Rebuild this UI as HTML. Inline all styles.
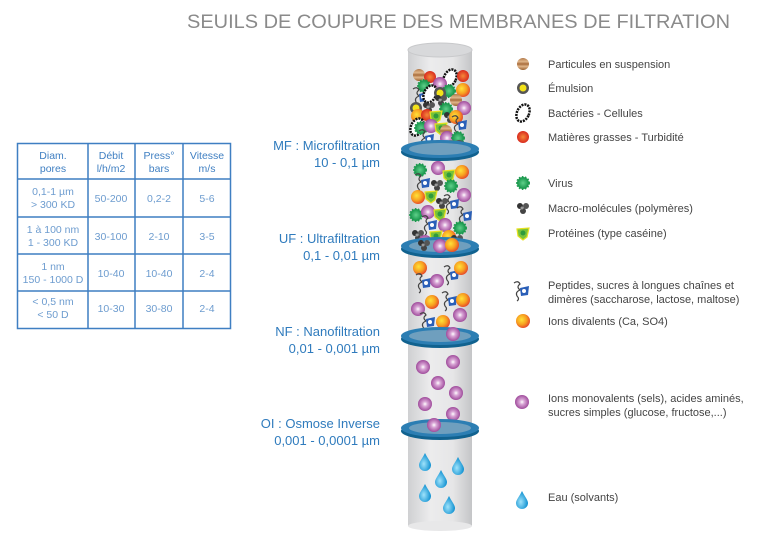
<!DOCTYPE html>
<html><head><meta charset="utf-8"><style>
html,body{margin:0;padding:0;background:#fff;}
svg{display:block;font-family:"Liberation Sans",sans-serif;}
</style></head><body>
<svg width="768" height="544" viewBox="0 0 768 544" xmlns="http://www.w3.org/2000/svg">
<defs>
<linearGradient id="cyl" x1="0" x2="1" y1="0" y2="0">
<stop offset="0" stop-color="#cfd0d2"/><stop offset="0.35" stop-color="#ececed"/><stop offset="0.7" stop-color="#e6e6e7"/><stop offset="1" stop-color="#c4c5c7"/></linearGradient>
<radialGradient id="pur" cx="0.5" cy="0.5" r="0.5"><stop offset="0" stop-color="#fff"/><stop offset="0.35" stop-color="#d9a6d6"/><stop offset="1" stop-color="#a04c9c"/></radialGradient>
<radialGradient id="org" cx="0.4" cy="0.4" r="0.6"><stop offset="0" stop-color="#ffe23a"/><stop offset="0.6" stop-color="#f7a020"/><stop offset="1" stop-color="#e8502a"/></radialGradient>
<radialGradient id="grn" cx="0.5" cy="0.5" r="0.5"><stop offset="0" stop-color="#5fd08a"/><stop offset="1" stop-color="#149348"/></radialGradient>
<radialGradient id="red" cx="0.5" cy="0.5" r="0.5"><stop offset="0" stop-color="#f5893a"/><stop offset="1" stop-color="#d92a1e"/></radialGradient>
<linearGradient id="brn" x1="0" x2="0" y1="0" y2="1"><stop offset="0" stop-color="#b27a4a"/><stop offset="0.3" stop-color="#e0b58a"/><stop offset="0.5" stop-color="#a86c3c"/><stop offset="0.7" stop-color="#e0b58a"/><stop offset="1" stop-color="#9a6030"/></linearGradient>
<radialGradient id="drop" cx="0.4" cy="0.6" r="0.6"><stop offset="0" stop-color="#9fe3fb"/><stop offset="1" stop-color="#0d8fd0"/></radialGradient>
<g id="p"><circle r="7" fill="url(#pur)"/></g>
<g id="o"><circle r="7" fill="url(#org)"/></g>
<g id="g"><circle r="6" fill="url(#grn)" stroke="#1c9a4e" stroke-width="2" stroke-dasharray="1.5 1.5"/></g>
<g id="r"><circle r="6" fill="url(#red)"/></g>
<g id="b"><circle r="6" fill="url(#brn)"/></g>
<g id="m"><circle cx="-3" cy="-2" r="3" fill="#333"/><circle cx="3" cy="-2" r="3" fill="#555"/><circle cx="0" cy="3" r="3" fill="#444"/><circle cx="-1" cy="0" r="1.5" fill="#999"/></g>
<g id="pr"><path d="M-6,-4 L6,-5 L4,4 L0,7 L-5,3 Z" fill="#78c23a" stroke="#e6e020" stroke-width="1.2"/><circle r="2.5" fill="#2e9a3c"/></g>
<g id="pep"><path d="M-8,-8 q4,-3 6,1 q-4,3 0,6 q-5,2 -3,6 q3,3 0,5" fill="none" stroke="#444" stroke-width="1.2"/><path d="M-2,-3 L7,-5 L6,4 L-1,5 Z" fill="#2a5fb8"/><circle cx="2" cy="0" r="2" fill="#fff"/></g>
<g id="bac"><ellipse rx="6" ry="9" fill="#fff" stroke="#111" stroke-width="2.5" stroke-dasharray="2 1" transform="rotate(25)"/></g>
<g id="em"><circle r="6" fill="#555"/><circle r="3.5" fill="#f2e21a"/></g>
<g id="d"><path d="M0,-9 C3,-3 6,0 6,3 A6,6 0 0 1 -6,3 C-6,0 -3,-3 0,-9 Z" fill="url(#drop)"/></g>
</defs>

<text x="187" y="28" font-size="19" fill="#8a8a8a" textLength="543" lengthAdjust="spacingAndGlyphs">SEUILS DE COUPURE DES MEMBRANES DE FILTRATION</text>

<!-- table -->
<g stroke="#3f7fc2" stroke-width="1.5" fill="none">
<rect x="17.5" y="143.5" width="213" height="185"/>
<line x1="88" y1="143" x2="88" y2="329"/><line x1="135" y1="143" x2="135" y2="329"/><line x1="183" y1="143" x2="183" y2="329"/>
<line x1="17" y1="179" x2="231" y2="179"/><line x1="17" y1="217" x2="231" y2="217"/><line x1="17" y1="254" x2="231" y2="254"/><line x1="17" y1="291" x2="231" y2="291"/>
</g>
<g font-size="10.5" fill="#3f7fc2" text-anchor="middle">
<text x="53" y="159">Diam.</text><text x="53" y="172">pores</text>
<text x="111" y="159">Débit</text><text x="111" y="172">l/h/m2</text>
<text x="159" y="159">Press°</text><text x="159" y="172">bars</text>
<text x="207" y="159">Vitesse</text><text x="207" y="172">m/s</text>
</g>
<g font-size="10.5" fill="#6d9ccf" text-anchor="middle">
<text x="53" y="195">0,1-1 µm</text><text x="53" y="208">&gt; 300 KD</text>
<text x="111" y="202">50-200</text><text x="159" y="202">0,2-2</text><text x="207" y="202">5-6</text>
<text x="53" y="233">1 à 100 nm</text><text x="53" y="246">1 - 300 KD</text>
<text x="111" y="240">30-100</text><text x="159" y="240">2-10</text><text x="207" y="240">3-5</text>
<text x="53" y="270">1 nm</text><text x="53" y="283">150 - 1000 D</text>
<text x="111" y="277">10-40</text><text x="159" y="277">10-40</text><text x="207" y="277">2-4</text>
<text x="53" y="305">&lt; 0,5 nm</text><text x="53" y="318">&lt; 50 D</text>
<text x="111" y="312">10-30</text><text x="159" y="312">30-80</text><text x="207" y="312">2-4</text>
</g>

<!-- left labels -->
<g font-size="13" fill="#2f7bbd" text-anchor="end">
<text x="380" y="150">MF : Microfiltration</text><text x="380" y="167">10 - 0,1 µm</text>
<text x="380" y="243">UF : Ultrafiltration</text><text x="380" y="260">0,1 - 0,01 µm</text>
<text x="380" y="336">NF : Nanofiltration</text><text x="380" y="353">0,01 - 0,001 µm</text>
<text x="380" y="428">OI : Osmose Inverse</text><text x="380" y="445">0,001 - 0,0001 µm</text>
</g>

<!-- cylinder -->
<rect x="408" y="50" width="64" height="476" fill="url(#cyl)"/>
<ellipse cx="440" cy="526" rx="32" ry="5" fill="#e8e8e9"/>
<ellipse cx="440" cy="50" rx="32" ry="7" fill="#d8d9db" stroke="#c8c9cb"/>

<use href="#b" x="419" y="75"/><use href="#r" x="430" y="77"/><use href="#bac" x="450" y="78"/><use href="#r" x="463" y="76"/>
<use href="#g" x="424" y="86"/><use href="#p" x="440" y="84"/><use href="#o" x="463" y="90"/><use href="#g" x="449" y="91"/>
<use href="#pep" x="421" y="97"/><use href="#bac" x="430" y="94"/><use href="#em" x="440" y="93"/><use href="#m" x="441" y="100"/><use href="#b" x="456" y="100"/>
<use href="#em" x="416" y="108"/><use href="#m" x="429" y="107"/><use href="#g" x="446" y="109"/><use href="#p" x="464" y="108"/>
<use href="#o" x="418" y="116"/><use href="#r" x="427" y="115"/><use href="#pr" x="436" y="116"/><use href="#m" x="450" y="117"/><use href="#o" x="456" y="117"/>
<use href="#bac" x="417" y="127"/><use href="#g" x="421" y="128"/><use href="#p" x="431" y="126"/><use href="#pr" x="441" y="128"/><use href="#pep" x="460" y="125"/>
<use href="#pep" x="427" y="139"/><use href="#b" x="446" y="131"/><use href="#p" x="447" y="138"/><use href="#g" x="458" y="138"/>
<use href="#r" x="438" y="146"/><use href="#b" x="451" y="146"/><use href="#em" x="459" y="146"/>

<ellipse cx="440" cy="152" rx="39" ry="9" fill="#11628f"/>
<ellipse cx="440" cy="149" rx="39" ry="9" fill="#2c7eb3"/>
<ellipse cx="440" cy="149" rx="31" ry="6" fill="#6f9fbe"/>

<use href="#g" x="420" y="170"/><use href="#p" x="438" y="168"/><use href="#pr" x="449" y="175"/><use href="#o" x="462" y="172"/>
<use href="#pep" x="423" y="183"/><use href="#m" x="437" y="185"/><use href="#g" x="451" y="186"/><use href="#o" x="418" y="197"/>
<use href="#pr" x="431" y="196"/><use href="#p" x="464" y="195"/><use href="#m" x="442" y="203"/><use href="#pep" x="452" y="204"/>
<use href="#g" x="416" y="215"/><use href="#p" x="428" y="212"/><use href="#pr" x="440" y="214"/><use href="#pep" x="465" y="216"/>
<use href="#pep" x="430" y="225"/><use href="#p" x="445" y="225"/><use href="#g" x="460" y="228"/>
<use href="#m" x="418" y="235"/><use href="#pr" x="436" y="236"/><use href="#p" x="425" y="242"/><use href="#o" x="449" y="237"/><use href="#m" x="457" y="240"/>

<ellipse cx="440" cy="249" rx="39" ry="9" fill="#11628f"/>
<ellipse cx="440" cy="246" rx="39" ry="9" fill="#2c7eb3"/>
<ellipse cx="440" cy="246" rx="31" ry="6" fill="#6f9fbe"/>
<use href="#m" x="424" y="245"/><use href="#p" x="440" y="246"/><use href="#o" x="452" y="245"/>

<use href="#o" x="420" y="268"/><use href="#pep" x="424" y="283"/><use href="#p" x="437" y="281"/><use href="#pep" x="452" y="275"/><use href="#o" x="461" y="268"/>
<use href="#o" x="432" y="302"/><use href="#pep" x="450" y="301"/><use href="#o" x="463" y="300"/><use href="#p" x="418" y="309"/><use href="#p" x="460" y="315"/>
<use href="#pep" x="428" y="322"/><use href="#o" x="443" y="322"/>

<ellipse cx="440" cy="339" rx="39" ry="9" fill="#11628f"/>
<ellipse cx="440" cy="336" rx="39" ry="9" fill="#2c7eb3"/>
<ellipse cx="440" cy="336" rx="31" ry="6" fill="#6f9fbe"/>
<use href="#p" x="453" y="334"/>

<use href="#p" x="423" y="367"/><use href="#p" x="453" y="362"/><use href="#p" x="438" y="383"/><use href="#p" x="456" y="393"/>
<use href="#p" x="425" y="404"/><use href="#p" x="453" y="414"/>

<ellipse cx="440" cy="431" rx="39" ry="9" fill="#11628f"/>
<ellipse cx="440" cy="428" rx="39" ry="9" fill="#2c7eb3"/>
<ellipse cx="440" cy="428" rx="31" ry="6" fill="#6f9fbe"/>
<use href="#p" x="434" y="425"/>

<use href="#d" x="425" y="462"/><use href="#d" x="458" y="466"/><use href="#d" x="441" y="479"/><use href="#d" x="425" y="493"/><use href="#d" x="449" y="505"/>

<use href="#b" x="523" y="64"/><use href="#em" x="523" y="88"/><use href="#bac" x="523" y="113"/><use href="#r" x="523" y="137"/>
<use href="#g" x="523" y="183"/><use href="#m" x="523" y="208"/><use href="#pr" x="523" y="233"/>
<use href="#pep" x="522" y="291"/><use href="#o" x="523" y="321"/><use href="#p" x="522" y="402"/><use href="#d" x="522" y="500"/>
<g font-size="11" fill="#444">
<text x="548" y="68">Particules en suspension</text>
<text x="548" y="92">Émulsion</text>
<text x="548" y="117">Bactéries - Cellules</text>
<text x="548" y="141">Matières grasses - Turbidité</text>
<text x="548" y="187">Virus</text>
<text x="548" y="212">Macro-molécules (polymères)</text>
<text x="548" y="237">Protéines (type caséine)</text>
<text x="548" y="289">Peptides, sucres à longues chaînes et</text>
<text x="548" y="303">dimères (saccharose, lactose, maltose)</text>
<text x="548" y="325">Ions divalents (Ca, SO4)</text>
<text x="548" y="402">Ions monovalents (sels), acides aminés,</text>
<text x="548" y="416">sucres simples (glucose, fructose,...)</text>
<text x="548" y="501">Eau (solvants)</text>
</g>
</svg>
</body></html>
